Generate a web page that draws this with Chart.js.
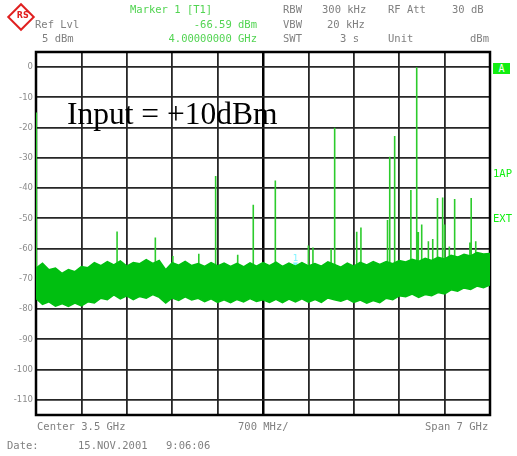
<!DOCTYPE html>
<html>
<head>
<meta charset="utf-8">
<script src="https://cdn.jsdelivr.net/npm/chart.js@4/dist/chart.umd.min.js"></script>
<style>
body { margin: 0; background: #fff; }
#wrap { position: relative; width: 517px; height: 456px; overflow: hidden;
  font-family: "DejaVu Sans Mono", monospace; font-size: 10.5px; color: #808080; }
#wrap canvas { position: absolute; left: 0; top: 0; }
.t { position: absolute; white-space: pre; line-height: 12px; }
.g { color: #52d452; }
.side { position: absolute; white-space: pre; line-height: 12px; color: #11ee11; font-size: 10.5px; }
#boxA { position: absolute; left: 493px; top: 63px; width: 17px; height: 11px; background: #11ee11;
  color: #fff; text-align: center; line-height: 11px; font-size: 10px; }
#title { position: absolute; left: 67px; top: 96px; font-family: "Liberation Serif", serif;
  font-size: 31.5px; color: #000; white-space: pre; }
#logo { position: absolute; left: 11px; top: 7px; width: 16px; height: 16px; border: 2px solid #e02020;
  transform: rotate(45deg); background: #fff; }
#logo span { position: absolute; left: 0; top: 1px; width: 16px; text-align: center; transform: rotate(-45deg);
  font: bold 8px "DejaVu Sans", sans-serif; color: #e02020; }
</style>
</head>
<body>
<div id="wrap">
  <canvas id="spec" width="517" height="456"></canvas>
  <div id="logo"><span>RS</span></div>
  <div class="t g" style="left:130px;top:3px">Marker 1 [T1]</div>
  <div class="t" style="left:283px;top:3px">RBW</div>
  <div class="t" style="left:322px;top:3px">300 kHz</div>
  <div class="t" style="left:388px;top:3px">RF Att</div>
  <div class="t" style="left:452px;top:3px">30 dB</div>
  <div class="t" style="left:35px;top:18px">Ref Lvl</div>
  <div class="t g" style="right:260px;top:18px">-66.59 dBm</div>
  <div class="t" style="left:283px;top:18px">VBW</div>
  <div class="t" style="left:327px;top:18px">20 kHz</div>
  <div class="t" style="left:42px;top:32px">5 dBm</div>
  <div class="t g" style="right:260px;top:32px">4.00000000 GHz</div>
  <div class="t" style="left:283px;top:32px">SWT</div>
  <div class="t" style="left:340px;top:32px">3 s</div>
  <div class="t" style="left:388px;top:32px">Unit</div>
  <div class="t" style="left:470px;top:32px">dBm</div>
  <div id="boxA">A</div>
  <div class="side" style="left:493px;top:167px">1AP</div>
  <div class="side" style="left:493px;top:212px">EXT</div>
  <div id="title">Input = +10dBm</div>
  <div class="t" style="left:37px;top:420px">Center 3.5 GHz</div>
  <div class="t" style="left:238px;top:420px">700 MHz/</div>
  <div class="t" style="left:425px;top:420px">Span 7 GHz</div>
  <div class="t" style="left:7px;top:439px">Date:</div>
  <div class="t" style="left:78px;top:439px">15.NOV.2001</div>
  <div class="t" style="left:166px;top:439px">9:06:06</div>
</div>
<script>
// axis ticks
const freqTicks = [0, 0.7, 1.4, 2.1, 2.8, 3.5, 4.2, 4.9, 5.6, 6.3, 7.0];
const levelTicks = [0, -10, -20, -30, -40, -50, -60, -70, -80, -90, -100, -110];

// noise floor envelope (GHz, dBm)
const noiseFreq = [0.0, 0.1, 0.2, 0.3, 0.4, 0.5, 0.6, 0.7, 0.8, 0.9, 1.0, 1.1, 1.2, 1.3, 1.4, 1.5, 1.6, 1.7, 1.8, 1.9,
  2.0, 2.1, 2.2, 2.3, 2.4, 2.5, 2.6, 2.7, 2.8, 2.9, 3.0, 3.1, 3.2, 3.3, 3.4, 3.5, 3.6, 3.7, 3.8, 3.9,
  4.0, 4.1, 4.2, 4.3, 4.4, 4.5, 4.6, 4.7, 4.8, 4.9, 5.0, 5.1, 5.2, 5.3, 5.4, 5.5, 5.6, 5.7, 5.8, 5.9,
  6.0, 6.1, 6.2, 6.3, 6.4, 6.5, 6.6, 6.7, 6.8, 6.9, 7.0];
const noiseTop = [-66.5, -64.8, -67.0, -66.4, -68.2, -66.9, -67.6, -65.9, -66.3, -64.6, -65.6, -64.3, -65.4, -64.1, -65.8, -64.6, -65.0, -63.6, -64.9, -63.9,
  -67.0, -64.6, -65.5, -64.2, -65.6, -64.9, -65.9, -64.6, -65.7, -64.8, -65.9, -64.9, -66.0, -64.7, -65.8, -64.6, -65.6, -64.5, -65.9, -64.8,
  -65.8, -64.6, -65.7, -64.9, -65.8, -64.4, -65.2, -66.1, -64.8, -65.8, -64.5, -65.4, -64.3, -65.2, -64.3, -65.0, -63.9, -64.4, -63.5, -64.2,
  -63.2, -63.9, -62.9, -63.4, -62.2, -62.8, -61.9, -62.4, -61.3, -61.8, -61.6];
const noiseBottom = [-76.5, -78.4, -77.6, -79.0, -78.2, -79.1, -78.0, -78.9, -77.6, -78.0, -76.4, -76.9, -75.3, -76.6, -75.6, -76.9, -75.8, -76.4, -75.2, -76.1,
  -78.0, -76.3, -77.1, -75.9, -77.0, -76.4, -77.5, -76.6, -77.8, -76.9, -77.9, -76.8, -77.6, -76.5, -77.5, -76.9, -77.8, -76.8, -77.9, -76.7,
  -77.6, -76.6, -77.7, -76.8, -77.8, -76.3, -76.9, -77.4, -76.6, -77.8, -77.0, -78.0, -77.2, -77.9, -76.4, -76.9, -75.6, -75.9, -75.0, -76.1,
  -75.2, -75.6, -74.5, -75.0, -73.6, -74.1, -73.0, -73.5, -72.4, -72.9, -72.0];

// spurs / harmonics
const spikeFreq = [0.005, 1.25, 1.84, 2.11, 2.51, 2.77, 3.11, 3.35, 3.69, 4.20, 4.27, 4.55, 4.605, 4.945, 5.01, 5.42, 5.454,
  5.53, 5.78, 5.87, 5.895, 5.947, 6.05, 6.117, 6.19, 6.27, 6.30, 6.373, 6.455, 6.69, 6.71, 6.78];
const spikePeak = [-15, -54.3, -56.3, -62.4, -61.7, -36, -62, -45.5, -37.5, -59, -59.6, -60, -20, -54.4, -53, -50.5, -29.6,
  -22.8, -40.6, 0, -54.5, -52, -57.6, -56.8, -43.3, -43.1, -52, -59.3, -43.6, -58, -43.3, -57.6];

const markerFreq = [4.0];
const markerLevel = [-66.59];

const upper = noiseFreq.map((f, i) => ({ x: f, y: noiseTop[i] }));
const lower = noiseFreq.map((f, i) => ({ x: f, y: noiseBottom[i] }));
const spikes = [];
spikeFreq.forEach((f, i) => {
  spikes.push({ x: f, y: -70 }, { x: f, y: spikePeak[i] }, { x: f, y: null });
});

// frame around the plot + marker label
const framePlugin = {
  id: "frame",
  beforeDatasetsDraw(chart) {
    const a = chart.chartArea, ctx = chart.ctx;
    ctx.save();
    ctx.strokeStyle = "#000";
    ctx.lineWidth = 2.5;
    ctx.strokeRect(a.left, a.top, a.right - a.left, a.bottom - a.top);
    ctx.restore();
  },
  afterDatasetsDraw(chart) {
    const ctx = chart.ctx;
    const x = chart.scales.x.getPixelForValue(markerFreq[0]);
    const y = chart.scales.y.getPixelForValue(markerLevel[0]);
    ctx.save();
    ctx.fillStyle = "#7ff4ff";
    ctx.font = "9px 'DejaVu Sans Mono'";
    ctx.textAlign = "center";
    ctx.fillText("1", x, y - 8);
    ctx.restore();
  }
};

new Chart("spec", {
  type: "line",
  data: {
    datasets: [
      { data: upper, borderColor: "#00bf10", borderWidth: 1.5, pointRadius: 0, fill: "+1",
        backgroundColor: "#00bf10", tension: 0 },
      { data: lower, borderColor: "#00bf10", borderWidth: 1.5, pointRadius: 0, fill: false, tension: 0 },
      { data: spikes, borderColor: "#2ccb2c", borderWidth: 1.6, pointRadius: 0, spanGaps: false, fill: false },
      { type: "scatter", data: markerFreq.map((f, i) => ({ x: f, y: markerLevel[i] + 1.5 })),
        pointStyle: "triangle", rotation: 180, pointRadius: 3, backgroundColor: "#7ff4ff", borderWidth: 0 }
    ]
  },
  options: {
    responsive: false,
    animation: false,
    events: [],
    layout: { padding: { left: 0, top: 52, right: 27, bottom: 41 } },
    plugins: { legend: { display: false }, tooltip: { enabled: false } },
    scales: {
      x: {
        type: "linear", min: 0, max: 7,
        afterBuildTicks: s => { s.ticks = freqTicks.map(v => ({ value: v })); },
        afterFit: s => { s.height = 0; },
        ticks: { display: false },
        border: { display: false },
        grid: {
          drawTicks: false,
          color: c => (c.index === 5 ? "#000" : "#262626"),
          lineWidth: c => (c.index === 5 ? 2.5 : 1.8)
        }
      },
      y: {
        min: -115, max: 5,
        afterBuildTicks: s => { s.ticks = levelTicks.map(v => ({ value: v })); },
        afterFit: s => { s.width = 36; },
        ticks: { color: "#8c8c8c", font: { family: "DejaVu Sans", size: 8.5 }, padding: 3 },
        border: { display: false },
        grid: { drawTicks: false, color: "#262626", lineWidth: 1.8 }
      }
    }
  },
  plugins: [framePlugin]
});
</script>
</body>
</html>
